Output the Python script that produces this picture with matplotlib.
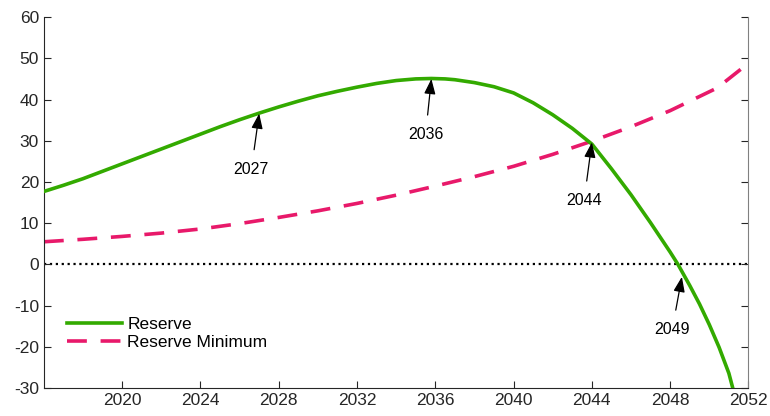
import matplotlib
matplotlib.use("Agg")
import matplotlib.pyplot as plt

plt.rcParams['font.family'] = ['Liberation Sans', 'DejaVu Sans']
plt.rcParams['axes.unicode_minus'] = False

# Reserve (green) and Reserve Minimum (pink dashed)
reserve_years = [2016, 2017, 2018, 2019, 2020, 2021, 2022, 2023, 2024, 2025, 2026, 2027,
                 2028, 2029, 2030, 2031, 2032, 2033, 2034, 2035, 2035.8, 2036.5, 2037, 2038,
                 2039, 2040, 2041, 2042, 2043, 2044, 2045, 2046, 2047, 2048, 2048.4, 2049,
                 2049.5, 2050, 2050.5, 2051, 2051.2]
reserve_vals = [17.7, 19.2, 20.8, 22.6, 24.4, 26.2, 28.0, 29.8, 31.6, 33.4, 35.1, 36.7,
                38.2, 39.6, 40.9, 42.0, 43.0, 43.9, 44.6, 45.0, 45.1, 45.0, 44.8, 44.1,
                43.1, 41.6, 39.2, 36.3, 33.0, 29.2, 23.2, 16.9, 10.1, 3.0, 0.0, -5.1,
                -9.6, -14.6, -20.1, -26.4, -30.0]

minimum_years = [2016, 2018, 2020, 2022, 2024, 2026, 2028, 2030, 2032, 2034, 2036, 2038,
                 2040, 2042, 2044, 2046, 2048, 2050.4, 2052]
minimum_vals = [5.5, 6.1, 6.8, 7.6, 8.6, 9.9, 11.4, 13.0, 14.8, 16.8, 19.0, 21.3,
                23.8, 26.7, 29.9, 33.4, 37.3, 42.8, 48.8]

# annotation labels: (label, arrow tip x, tip y, text x, text y)
notes = [("2027", 2027.0, 36.6, 2026.6, 23.0),
         ("2036", 2035.8, 45.0, 2035.5, 31.4),
         ("2044", 2044.0, 29.6, 2043.6, 15.4),
         ("2049", 2048.6, -3.0, 2048.1, -15.9)]

fig = plt.figure(figsize=(7.7, 4.16), dpi=100)
ax = fig.add_axes([0.057, 0.067, 0.915, 0.892])

ax.axhline(0, color='black', linestyle=':', linewidth=1.6, zorder=1)
ax.plot(reserve_years, reserve_vals, color='#33AA00', linewidth=2.6, label='Reserve', zorder=3)
ax.plot(minimum_years, minimum_vals, color='#E8196A', linewidth=2.6, linestyle=(0, (5.5, 3.8)),
        label='Reserve Minimum', zorder=2)

for label, tx, ty, lx, ly in notes:
    ax.annotate(label, xy=(tx, ty), xytext=(lx, ly), ha='center', va='center', fontsize=11.5,
                arrowprops=dict(arrowstyle='-|>,head_length=0.8,head_width=0.3',
                                color='black', lw=0.9, shrinkA=7, shrinkB=0))

ax.set_xlim(2016, 2052)
ax.set_ylim(-30, 60)
ax.set_xticks(range(2020, 2053, 4))
ax.set_yticks(range(-30, 61, 10))
ax.tick_params(direction='in', labelsize=12.5, colors='#262626', length=5)
ax.tick_params(axis='y', right=True)
ax.spines['top'].set_visible(False)
ax.spines['right'].set_color('#808080')
for s in ['left', 'bottom']:
    ax.spines[s].set_color('#262626')

ax.legend(loc='lower left', bbox_to_anchor=(0.01, 0.06), frameon=False, fontsize=12.5,
          handlelength=3.2, handletextpad=0.3, labelspacing=0.2)

fig.savefig('out.png', dpi=100)
